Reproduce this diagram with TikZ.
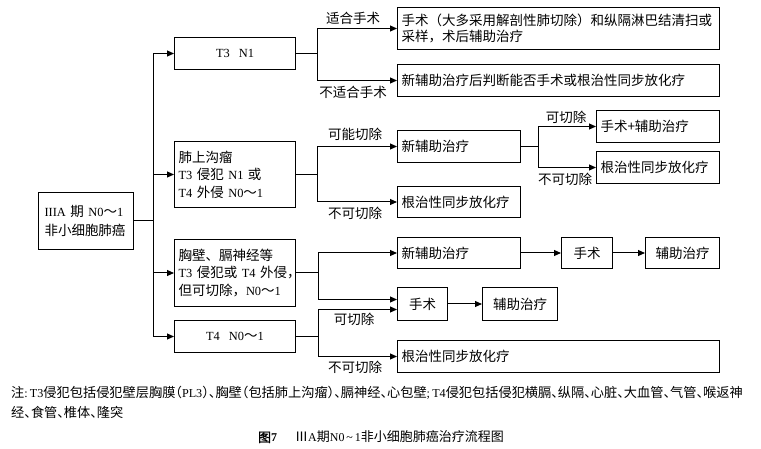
\documentclass[tikz,border=0pt]{standalone}
\usepackage{fontspec}
\setmainfont{Noto Sans CJK SC}
\newfontfamily\lat[Scale=0.92]{Liberation Serif}
\newfontfamily\cjkh[RawFeature=+halt]{Noto Sans CJK SC}
\newfontfamily\cjkbold[FakeBold=1.5]{Noto Sans CJK SC}
\usetikzlibrary{arrows.meta}
\tikzset{
  box/.style={draw, line width=1pt, inner xsep=4pt, inner ysep=0pt,
    anchor=north west, align=left, font=\fontsize{13.5}{17.5}\selectfont},
  cbox/.style={box, align=center},
  lbl/.style={inner sep=0pt, font=\fontsize{13.5}{16}\selectfont},
  arr/.style={line width=1pt, -{Triangle[length=7pt,width=6pt]}},
  notetext/.style={inner sep=0pt, anchor=west, font=\fontsize{13.2}{16}\selectfont\cjkh},
}
\begin{document}
\begin{tikzpicture}[x=1pt,y=-1pt]
\useasboundingbox (0,0) rectangle (761,449);
% first column
\node[box, inner xsep=6pt, text width=83pt, minimum height=57pt, font=\fontsize{13.5}{19}\selectfont] (left) at (38,192)
  {\mbox{{\lat IIIA} 期 {\lat N0}～{\lat 1}}\\非小细胞肺癌};
% second column
\node[cbox, text width=113pt, minimum height=32pt] (t3n1) at (174,37) {{\lat T3\ \ N1}};
\node[box, text width=113pt, minimum height=66pt] (b2) at (174,141)
  {肺上沟瘤\\\mbox{{\lat T3} 侵犯 {\lat N1} 或}\\\mbox{{\lat T4} 外侵 {\lat N0}～{\lat 1}}};
\node[box, text width=113pt, minimum height=67pt] (b3) at (174,239)
  {胸壁、膈神经等\\\mbox{{\lat T3} 侵犯或 {\lat T4} 外侵，}\\\mbox{但可切除，{\lat N0}～{\lat 1}}};
\node[cbox, text width=113pt, minimum height=32pt] (b4) at (174,320) {\mbox{{\lat T4\ \ N0}～{\lat 1}}};
% third column
\node[box, text width=314pt, minimum height=42pt, font=\fontsize{13.5}{16.5}\selectfont] (A) at (397,7)
  {手术（大多采用解剖性肺切除）和纵隔淋巴结清扫或\\采样，术后辅助治疗};
\node[box, text width=314pt, minimum height=32pt] (B) at (397,64) {新辅助治疗后判断能否手术或根治性同步放化疗};
\node[box, text width=115pt, minimum height=32pt] (C) at (397,130) {新辅助治疗};
\node[box, text width=115pt, minimum height=31pt] (D) at (397,186) {根治性同步放化疗};
\node[box, text width=115pt, minimum height=32pt] (E) at (596,110) {手术+辅助治疗};
\node[box, text width=115pt, minimum height=32pt] (F) at (596,151) {根治性同步放化疗};
\node[box, text width=115pt, minimum height=31pt] (G) at (397,237) {新辅助治疗};
\node[cbox, text width=43pt, minimum height=31pt] (H) at (561,237) {手术};
\node[cbox, text width=66pt, minimum height=31pt] (I) at (645,237) {辅助治疗};
\node[cbox, text width=42pt, minimum height=33pt] (J) at (397,287) {手术};
\node[cbox, text width=67pt, minimum height=33pt] (K) at (482,287) {辅助治疗};
\node[box, text width=314pt, minimum height=32pt] (L) at (397,340) {根治性同步放化疗};
% junctions
\coordinate (j0) at (153,220);
\coordinate (j1) at (317,53);
\coordinate (j2) at (317,174);
\coordinate (j3) at (538,146);
\coordinate (j4) at (318,272);
\coordinate (j5) at (318,336);
% connectors
\foreach \t in {t3n1,b2,b3,b4}
  \draw[arr] (left.east) -- (left.east -| j0) |- (\t.west);
\draw[arr] (t3n1.east) -- (t3n1.east -| j1) |- (A.west);
\draw[arr] (t3n1.east) -- (t3n1.east -| j1) |- (B.west);
\draw[arr] (b2.east) -- (b2.east -| j2) |- (C.west);
\draw[arr] (b2.east) -- (b2.east -| j2) |- (D.west);
\draw[arr] (C.east) -- (C.east -| j3) |- (E.west);
\draw[arr] (C.east) -- (C.east -| j3) |- (F.west);
\draw[arr] (b3.east) -- (b3.east -| j4) |- (G.west);
\draw[arr] (b3.east) -- (b3.east -| j4) |- ([yshift=4.5pt]J.west);
\draw[arr] (b4.east) -- (b4.east -| j5) |- ([yshift=-5.5pt]J.west);
\draw[arr] (b4.east) -- (b4.east -| j5) |- (L.west);
\draw[arr] (G.east) -- (H.west);
\draw[arr] (H.east) -- (I.west);
\draw[arr] (J.east) -- (K.west);
% labels
\node[lbl] (l1) at (353,18) {适合手术};
\node[lbl] (l2) at (353,92) {不适合手术};
\node[lbl] (l3) at (355,134) {可能切除};
\node[lbl] (l4) at (355,213) {不可切除};
\node[lbl] (l5) at (566,117) {可切除};
\node[lbl] (l6) at (565,179) {不可切除};
\node[lbl] (l7) at (354,319) {可切除};
\node[lbl] (l8) at (355,367) {不可切除};
% note and caption
\node[notetext] (n1) at (11,393)
  {注{\lat :}\,{\lat T3}侵犯包括侵犯壁层胸膜（{\lat PL3}）、胸壁（包括肺上沟瘤）、膈神经、心包壁{\lat ;}\,{\lat T4}侵犯包括侵犯横膈、纵隔、心脏、大血管、气管、喉返神};
\node[notetext] (n2) at (11,412) {经、食管、椎体、隆突};
\node[inner sep=0pt, font=\fontsize{13}{15}\selectfont] (cap) at (381,437)
  {{\cjkbold 图}{\lat\bfseries 7}\hspace{1.4em}Ⅲ{\lat A}期{\lat N0\,\textasciitilde\,1}非小细胞肺癌治疗流程图};
\end{tikzpicture}
\end{document}
